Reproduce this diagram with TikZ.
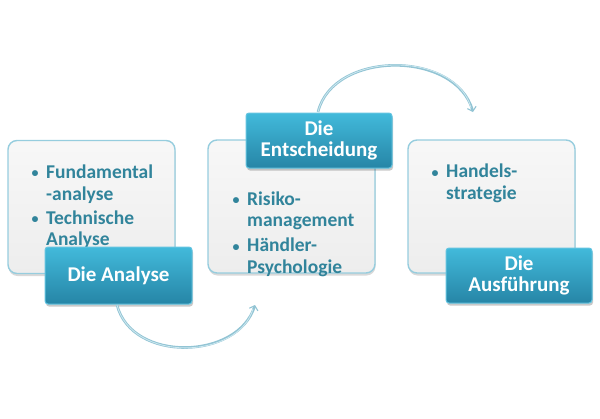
\documentclass[tikz,border=0pt]{standalone}
\usepackage{fontspec}
\setmainfont{Carlito}
\usetikzlibrary{shadows,arrows.meta}
\definecolor{boxborder}{RGB}{150,205,222}
\definecolor{boxtext}{RGB}{49,132,155}
\definecolor{darktop}{RGB}{66,186,219}
\definecolor{darkbot}{RGB}{38,133,166}
\definecolor{darkedge}{RGB}{100,196,224}
\definecolor{arrowcol}{RGB}{146,196,212}
\definecolor{arrowin}{RGB}{205,232,240}
\tikzset{
  lightbox/.style={draw=boxborder, line width=1.4pt, rounded corners=9pt,
    top color=white!97!black, bottom color=white!93!black,
    minimum width=167pt, minimum height=133pt, inner sep=0pt,
    drop shadow={shadow xshift=0.5pt, shadow yshift=-2.5pt, opacity=0.25, fill=black!60}},
  darkbox/.style={draw=darkedge, line width=1pt, rounded corners=3pt,
    top color=darktop, bottom color=darkbot,
    minimum width=146pt, minimum height=55pt, inner sep=0pt,
    text=white, align=center, font=\fontsize{21}{21.6}\selectfont\bfseries,
    drop shadow={shadow xshift=1pt, shadow yshift=-2.5pt, opacity=0.3, fill=black!70}},
  itemtext/.style={anchor=base west, inner sep=0pt, text=boxtext,
    font=\fontsize{19.5}{21.7}\selectfont\bfseries},
  flowarrow/.style={draw=arrowcol, line width=2.6pt, -{Straight Barb[length=4pt,width=9pt,line width=1.1pt]}},
  flowinner/.style={draw=arrowin, line width=0.8pt}
}
\newcommand{\bul}{\makebox[14.5pt][l]{\raisebox{0.6pt}{\scalebox{0.72}{\textbullet}}}}
\begin{document}
\begin{tikzpicture}[x=1pt,y=-1pt]
\useasboundingbox (0,0) rectangle (600,418);
% light boxes
\node[lightbox] (l1) at (91.5,207) {};
\node[lightbox] (l2) at (291.5,206.5) {};
\node[lightbox] (l3) at (491.5,206.5) {};
% texts
\node[itemtext] (t1) at (31.5,178.3) {\begin{tabular}[t]{@{}l@{}l@{}}\bul & Fundamental\\ & -analyse\\[2.4pt] \bul & Technische\\ & Analyse\end{tabular}};
\node[itemtext] (t2) at (232.5,205) {\begin{tabular}[t]{@{}l@{}l@{}}\bul & Risiko-\\ & management\\[3.3pt] \bul & Händler-\\ & Psychologie\end{tabular}};
\node[itemtext] (t3) at (431.5,177.7) {\begin{tabular}[t]{@{}l@{}l@{}}\bul & Handels-\\ & strategie\end{tabular}};
% dark boxes
\node[darkbox, minimum width=147pt, minimum height=57pt] (d1) at (118.5,275.5) {Die Analyse};
\node[darkbox] (d2) at (319,140.5) {Die\\Entscheidung};
\node[darkbox] (d3) at (519,275.5) {Die\\Ausführung};
% arrows
\coordinate (a1s) at (117,305);
\coordinate (a1e) at (255,305);
\coordinate (a2s) at (318,112);
\coordinate (a2e) at (473,112);
\draw[flowarrow] (a1s) .. controls (132,363) and (238,360) .. (a1e);
\draw[flowinner] (a1s) .. controls (132,363) and (238,360) .. (253,309);
\draw[flowarrow] (a2s) .. controls (333,50) and (456,50) .. (a2e);
\draw[flowinner] (a2s) .. controls (333,50) and (456,50) .. (471,108);
\end{tikzpicture}
\end{document}
